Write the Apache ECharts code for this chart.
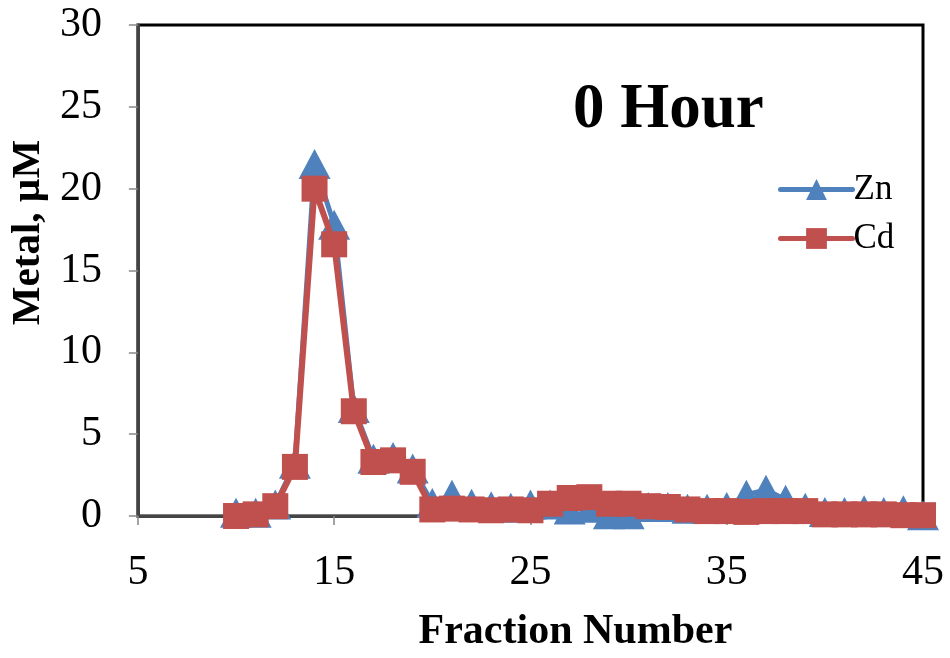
<!DOCTYPE html>
<html>
<head>
<meta charset="utf-8">
<script src="https://cdn.jsdelivr.net/npm/echarts@6/dist/echarts.min.js"></script>
<style>html,body{margin:0;padding:0;background:#fff;}#c{width:950px;height:658px;}</style>
</head>
<body>
<div id="c"></div>
<script>
const fractions = [10,11,12,13,14,15,16,17,18,19,20,21,22,23,24,25,26,27,28,29,30,31,32,33,34,35,36,37,38,39,40,41,42,43,44,45];
const zn = [0.2,0.2,0.7,3.2,21.5,17.8,6.6,3.5,3.6,2.9,0.8,1.3,0.75,0.6,0.5,0.7,0.7,0.4,0.5,0.1,0.1,0.55,0.55,0.45,0.45,0.55,1.3,1.6,1.0,0.5,0.25,0.25,0.35,0.25,0.35,0.05];
const cd = [0.0,0.1,0.6,3.0,20.0,16.6,6.4,3.3,3.4,2.7,0.4,0.45,0.4,0.35,0.4,0.35,0.75,1.1,1.15,0.75,0.75,0.6,0.55,0.4,0.3,0.3,0.25,0.3,0.3,0.3,0.1,0.1,0.1,0.1,0.05,0.05];
const xTicks = [5,15,25,35,45];
const titleText = '0 Hour';
const xName = 'Fraction Number';
const yName = 'Metal, µM';

const font = 'Liberation Serif';
const chart = echarts.init(document.getElementById('c'), null, {renderer:'canvas'});
chart.setOption({
  animation: false,
  backgroundColor: '#fff',
  title: {
    text: titleText, left: 568, top: 74,
    textStyle: {fontFamily: font, fontWeight: 'bold', fontSize: 63, color: '#000', lineHeight: 63}
  },
  legend: {
    orient: 'vertical', left: 773, top: 167, itemWidth: 72, itemHeight: 26, itemGap: 14,
    lineStyle: {width: 5, cap: 'round'},
    textStyle: {fontFamily: font, fontSize: 35, color: '#000', padding: [0,0,0,-4]},
    data: ['Zn','Cd']
  },
  grid: {left: 137, right: 27, top: 25, bottom: 141, show: true, borderColor: '#000', borderWidth: 3, backgroundColor: 'transparent'},
  xAxis: {
    type: 'value', min: 5, max: 45, interval: 5,
    name: xName, nameLocation: 'middle', nameGap: 95,
    nameTextStyle: {fontFamily: font, fontWeight: 'bold', fontSize: 42, color: '#000', padding: [0,0,0,90]},
    axisLine: {show: true, onZero: false, lineStyle: {color: '#444', width: 3}},
    axisTick: {show: true, inside: false, length: 9, customValues: xTicks, lineStyle: {color: '#888', width: 1.5}},
    axisLabel: {customValues: xTicks, fontFamily: font, fontSize: 42, color: '#000', margin: 36},
    splitLine: {show: false}
  },
  yAxis: {
    type: 'value', min: 0, max: 30, interval: 5,
    name: yName, nameLocation: 'middle', nameGap: 84, nameRotate: 90,
    nameTextStyle: {fontFamily: font, fontWeight: 'bold', fontSize: 41, color: '#000', padding: [0,0,0,76]},
    axisLine: {show: true, lineStyle: {color: '#444', width: 3}},
    axisTick: {show: true, inside: false, length: 9, lineStyle: {color: '#888', width: 1.5}},
    axisLabel: {fontFamily: font, fontSize: 42, color: '#000', margin: 36},
    splitLine: {show: false}
  },
  series: [
    {
      name: 'Zn', type: 'line', data: fractions.map((f,i)=>[f, zn[i]]),
      symbol: 'triangle', symbolSize: [32, 30], showAllSymbol: true,
      lineStyle: {color: '#4F81BD', width: 5},
      itemStyle: {color: '#4F81BD'}, z: 3
    },
    {
      name: 'Cd', type: 'line', data: fractions.map((f,i)=>[f, cd[i]]),
      symbol: 'rect', symbolSize: 26, showAllSymbol: true,
      lineStyle: {color: '#C0504D', width: 6},
      itemStyle: {color: '#C0504D'}, z: 4
    }
  ]
});
</script>
</body>
</html>
